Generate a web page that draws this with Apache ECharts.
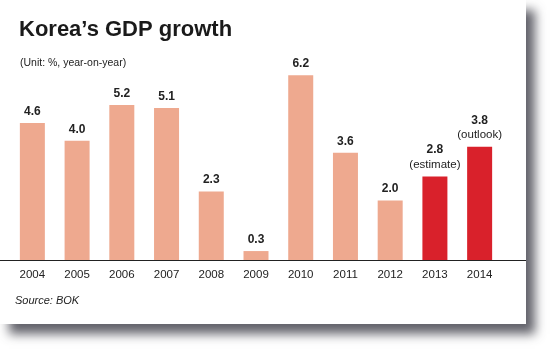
<!DOCTYPE html>
<html>
<head>
<meta charset="utf-8">
<script src="https://cdn.jsdelivr.net/npm/echarts@6/dist/echarts.min.js"></script>
<style>
  html, body { margin: 0; padding: 0; background: #fff; }
  #chart { width: 553px; height: 351px; }
</style>
</head>
<body>
<div id="chart"></div>
<script>
var years = ['2004', '2005', '2006', '2007', '2008', '2009', '2010', '2011', '2012', '2013', '2014'];
var growth = [4.6, 4.0, 5.2, 5.1, 2.3, 0.3, 6.2, 3.6, 2.0, 2.8, 3.8];
var notes = ['', '', '', '', '', '', '', '', '', '(estimate)', '(outlook)'];
var highlighted = ['2013', '2014'];

var lightColor = '#eea98f';
var darkColor = '#d9212b';

var chart = echarts.init(document.getElementById('chart'));

var barData = [];
for (var i = 0; i < years.length; i++) {
	var isRed = highlighted.indexOf(years[i]) >= 0;
	barData.push({
		value : growth[i],
		itemStyle : { color : isRed ? darkColor : lightColor }
	});
}

var option = {
	animation : false,
	graphic : [ {
		type : 'rect',
		z : -10,
		shape : { x : 0, y : 0, width : 526, height : 324 },
		style : {
			fill : '#fff',
			shadowBlur : 10,
			shadowOffsetX : 9,
			shadowOffsetY : 10,
			shadowColor : 'rgba(60,60,70,0.8)'
		}
	}, {
		type : 'line',
		z : 5,
		shape : { x1 : 0, y1 : 260.5, x2 : 526, y2 : 260.5 },
		style : { stroke : '#222', lineWidth : 1.2 }
	}, {
		type : 'text',
		left : 15,
		top : 295,
		style : {
			text : 'Source: BOK',
			font : 'italic 11px "Liberation Sans", Arial, sans-serif',
			fill : '#222'
		}
	} ],
	title : [ {
		text : 'Korea\u2019s GDP growth',
		left : 14,
		top : 14,
		textStyle : {
			fontFamily : '"Liberation Sans", Arial, sans-serif',
			fontWeight : 'bold',
			fontSize : 22,
			color : '#1a1a1a'
		}
	}, {
		text : '(Unit: %, year-on-year)',
		left : 15,
		top : 53,
		textStyle : {
			fontFamily : '"Liberation Sans", Arial, sans-serif',
			fontWeight : 'normal',
			fontSize : 10.5,
			color : '#222'
		}
	} ],
	grid : {
		left : 10,
		right : 51,
		top : 51.4,
		bottom : 91
	},
	xAxis : {
		type : 'category',
		data : years,
		axisLine : { show : false },
		axisTick : { show : false },
		axisLabel : {
			margin : 9,
			fontFamily : '"Liberation Sans", Arial, sans-serif',
			fontSize : 11.5,
			color : '#222'
		}
	},
	yAxis : {
		type : 'value',
		min : 0,
		max : 7,
		show : false,
		splitLine : { show : false }
	},
	series : [ {
		type : 'bar',
		data : barData,
		barWidth : 25,
		label : {
			show : true,
			position : 'top',
			distance : 4,
			formatter : function(p) {
				var note = notes[p.dataIndex];
				return note ? '{v|' + p.value.toFixed(1) + '}\n{n|' + note + '}' : '{v|' + p.value.toFixed(1) + '}';
			},
			rich : {
				v : {
					fontFamily : '"Liberation Sans", Arial, sans-serif',
					fontWeight : 'bold',
					fontSize : 12,
					color : '#222',
					lineHeight : 15
				},
				n : {
					fontFamily : '"Liberation Sans", Arial, sans-serif',
					fontSize : 11.5,
					color : '#222',
					lineHeight : 15
				}
			}
		}
	} ]
};

chart.setOption(option);
window.onresize = chart.resize;
</script>
</body>
</html>
